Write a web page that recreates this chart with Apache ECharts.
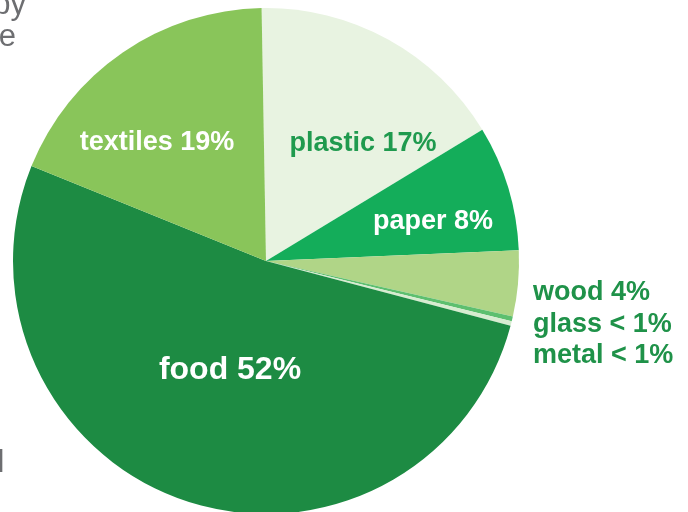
<!DOCTYPE html>
<html>
<head>
<meta charset="utf-8">
<script src="https://cdn.jsdelivr.net/npm/echarts@6/dist/echarts.min.js"></script>
<style>
html,body{margin:0;padding:0;background:#fff;}
#chart{width:688px;height:512px;}
</style>
</head>
<body>
<div id="chart"></div>
<script>
// Data (share of waste, %)
var categories = ['plastic', 'paper', 'wood', 'glass', 'metal', 'food', 'textiles'];
var shares = [16.6, 8.0, 4.2, 0.3, 0.3, 52.0, 18.6];
var sliceColors = ['#e8f3e1', '#14ad5a', '#b0d587', '#5dbf6f', '#d7ecd0', '#1d8b43', '#89c55a'];
var captionFragments = ['by', 'e', 'l'];

// Layout (not data): label anchor points and styles
var labelPlaces = {
  plastic:  {x: 363, y: 144, align: 'center', color: '#1f9a4e', size: 27},
  paper:    {x: 433, y: 222, align: 'center', color: '#ffffff', size: 27},
  wood:     {x: 533, y: 293, align: 'left',   color: '#1f9249', size: 27},
  glass:    {x: 533, y: 325, align: 'left',   color: '#1f9249', size: 27},
  metal:    {x: 533, y: 356, align: 'left',   color: '#1f9249', size: 27},
  food:     {x: 230, y: 370, align: 'center', color: '#ffffff', size: 32},
  textiles: {x: 157, y: 143, align: 'center', color: '#ffffff', size: 27}
};

function pctText(v) {
  return v < 1 ? '< 1%' : Math.round(v) + '%';
}

var data = categories.map(function (c, i) {
  var p = labelPlaces[c];
  return {
    name: c,
    value: shares[i],
    itemStyle: {color: sliceColors[i]},
    label: {color: p.color, fontSize: p.size}
  };
});

var captionStyle = {fontSize: 31, fontFamily: 'Liberation Sans, Arial, sans-serif', fill: '#6d6e71', align: 'right', verticalAlign: 'middle'};
function cap(text, x, y) {
  return {type: 'text', x: x, y: y, style: Object.assign({text: text}, captionStyle)};
}

var chart = echarts.init(document.getElementById('chart'), null, {renderer: 'canvas'});
chart.setOption({
  animation: false,
  backgroundColor: '#ffffff',
  series: [{
    type: 'pie',
    center: [266, 261],
    radius: [0, 253],
    startAngle: 91,
    clockwise: true,
    silent: true,
    avoidLabelOverlap: false,
    itemStyle: {borderWidth: 0},
    label: {
      show: true,
      position: 'inside',
      fontFamily: 'Liberation Sans, Arial, sans-serif',
      fontWeight: 'bold',
      formatter: function (p) { return p.name + ' ' + pctText(p.value); }
    },
    labelLine: {show: false},
    labelLayout: function (params) {
      var p = labelPlaces[categories[params.dataIndex]];
      return {x: p.x, y: p.y, align: p.align, verticalAlign: 'middle'};
    },
    data: data
  }],
  graphic: [
    cap(captionFragments[0], 26, 5),
    cap(captionFragments[1], 16, 37),
    cap(captionFragments[2], 4.5, 463)
  ]
});
</script>
</body>
</html>
